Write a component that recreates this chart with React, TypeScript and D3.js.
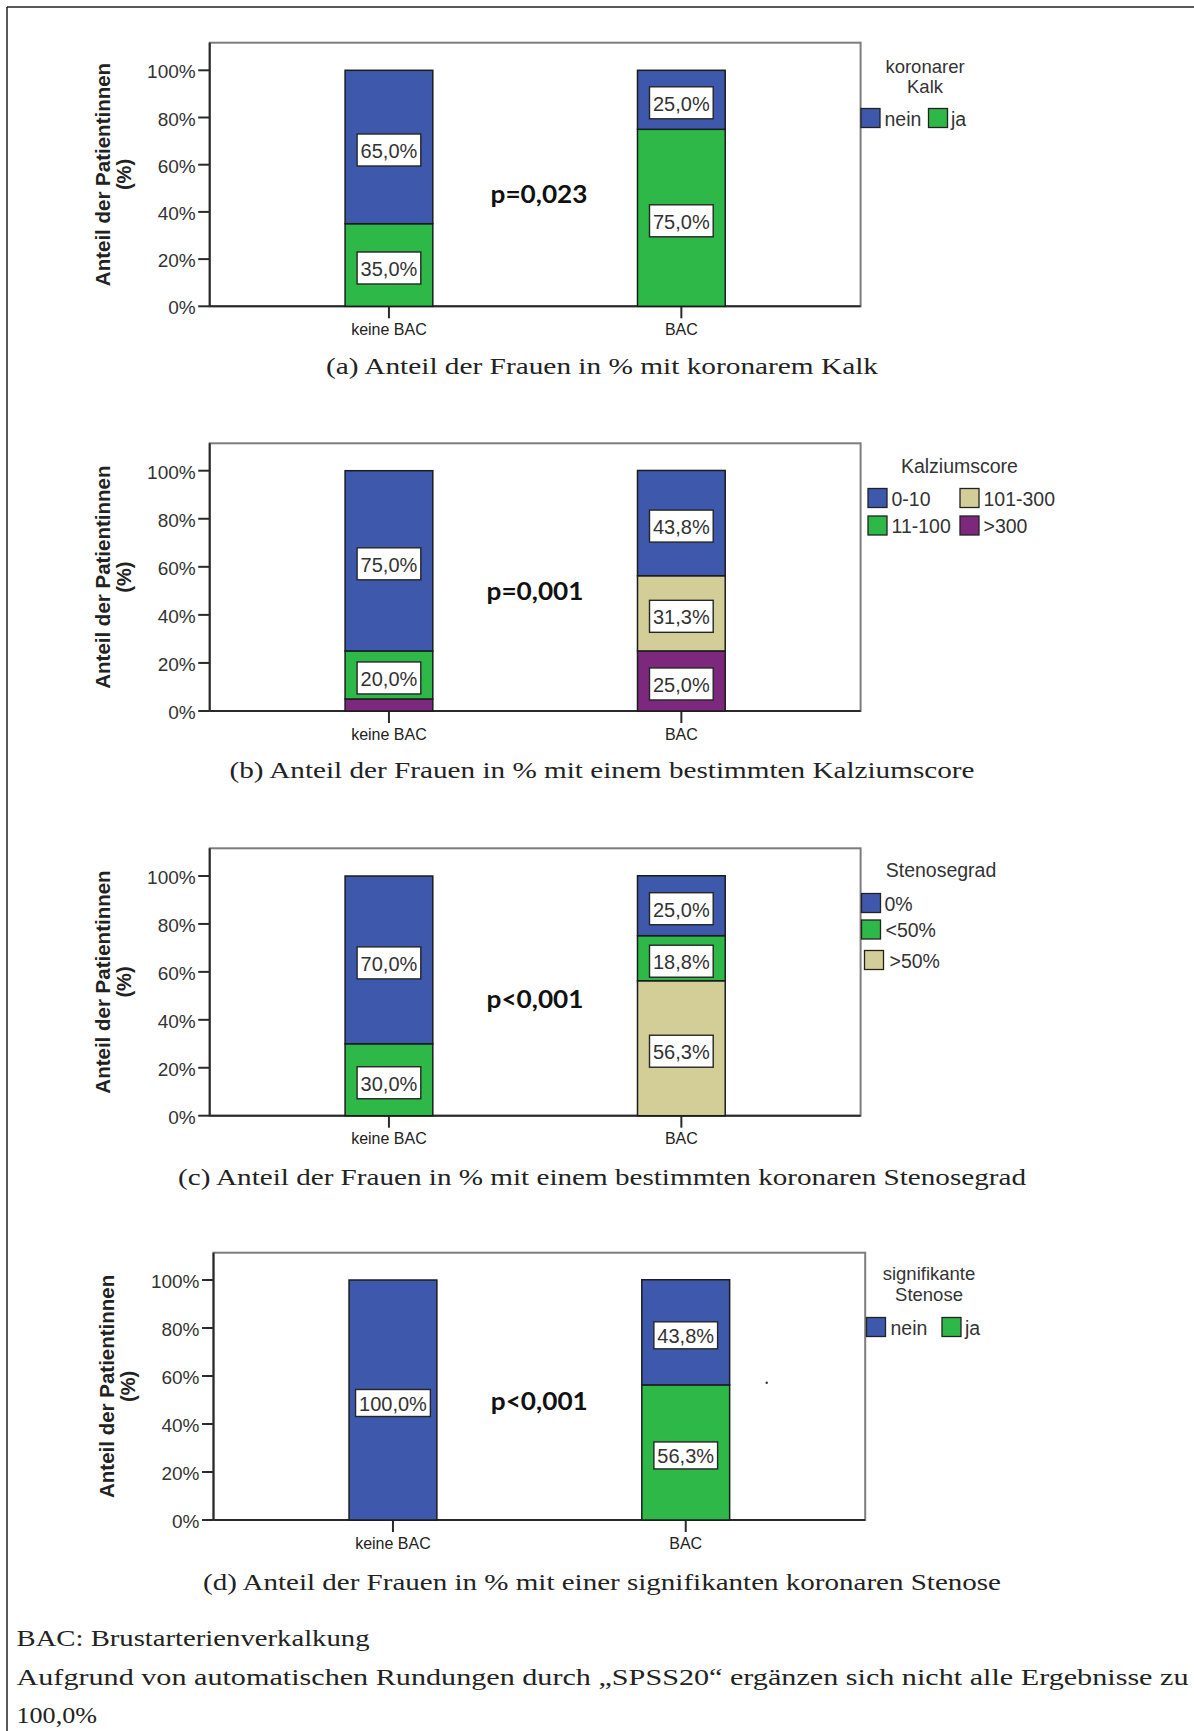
import React from "react";
import * as d3 from "d3";

// Shared categories and axis ticks
const categories = ["keine BAC", "BAC"];
const yTicks = [0, 20, 40, 60, 80, 100];

// (a) koronarer Kalk
const kalkLevels = ["nein", "ja"];
const kalkNein = [65.0, 25.0];
const kalkJa = [35.0, 75.0];

// (b) Kalziumscore
const scoreLevels = ["0-10", "11-100", "101-300", ">300"];
const score0to10 = [75.0, 43.8];
const score11to100 = [20.0, 0];
const score101to300 = [0, 31.3];
const scoreOver300 = [5.0, 25.0];

// (c) Stenosegrad
const stenoseLevels = ["0%", "<50%", ">50%"];
const stenose0 = [70.0, 25.0];
const stenoseUnder50 = [30.0, 18.8];
const stenoseOver50 = [0, 56.3];

// (d) signifikante Stenose
const signifLevels = ["nein", "ja"];
const signifNein = [100.0, 43.8];
const signifJa = [0, 56.3];

const pValues = ["p=0,023", "p=0,001", "p<0,001", "p<0,001"];

const captions = [
  "(a) Anteil der Frauen in % mit koronarem Kalk",
  "(b) Anteil der Frauen in % mit einem bestimmten Kalziumscore",
  "(c) Anteil der Frauen in % mit einem bestimmten koronaren Stenosegrad",
  "(d) Anteil der Frauen in % mit einer signifikanten koronaren Stenose",
];

const footnotes = [
  "BAC: Brustarterienverkalkung",
  "Aufgrund von automatischen Rundungen durch \u201ESPSS20\u201C ergänzen sich nicht alle Ergebnisse zu",
  "100,0%",
];

// SPSS default palette
const BLUE = "#3E58AC";
const GREEN = "#2EB848";
const BEIGE = "#D3CE97";
const PURPLE = "#7C287D";

const SANS = "'Liberation Sans', Arial, sans-serif";
const SERIF = "'Liberation Serif', 'Times New Roman', serif";

const deFormat = d3
  .formatLocale({ decimal: ",", thousands: ".", grouping: [3], currency: ["", " €"] })
  .format(".1f");

type Series = { name: string; values: number[]; color: string };
type LegendItem = { name: string; color: string; x: number; y: number; gap: number };

interface PanelCfg {
  series: Series[]; // stacking order, bottom to top
  frame: { left: number; right: number; top: number; base: number; y100: number };
  boxH: number;
  p: string;
  pPos: [number, number];
  legendTitle: string[];
  legendTitleX: number;
  legendTitleY: number[];
  legendItems: LegendItem[];
  caption: string;
  captionY: number;
  captionW: number;
}

const panels: PanelCfg[] = [
  {
    series: [
      { name: kalkLevels[1], values: kalkJa, color: GREEN },
      { name: kalkLevels[0], values: kalkNein, color: BLUE },
    ],
    frame: { left: 209.7, right: 860.6, top: 42.7, base: 306.3, y100: 70.3 },
    boxH: 32,
    p: pValues[0],
    pPos: [539, 193],
    legendTitle: ["koronarer", "Kalk"],
    legendTitleX: 925,
    legendTitleY: [66, 86.5],
    legendItems: [
      { name: kalkLevels[0], color: BLUE, x: 861, y: 108.5, gap: 4.5 },
      { name: kalkLevels[1], color: GREEN, x: 928.5, y: 108.5, gap: 3.5 },
    ],
    caption: captions[0],
    captionY: 366,
    captionW: 552,
  },
  {
    series: [
      { name: scoreLevels[3], values: scoreOver300, color: PURPLE },
      { name: scoreLevels[2], values: score101to300, color: BEIGE },
      { name: scoreLevels[1], values: score11to100, color: GREEN },
      { name: scoreLevels[0], values: score0to10, color: BLUE },
    ],
    frame: { left: 209.7, right: 860.6, top: 443.3, base: 711, y100: 470.7 },
    boxH: 32,
    p: pValues[1],
    pPos: [535, 590],
    legendTitle: ["Kalziumscore"],
    legendTitleX: 959.4,
    legendTitleY: [465.7],
    legendItems: [
      { name: scoreLevels[0], color: BLUE, x: 868, y: 488.5, gap: 4.5 },
      { name: scoreLevels[1], color: GREEN, x: 868, y: 516, gap: 4.5 },
      { name: scoreLevels[2], color: BEIGE, x: 960, y: 488.5, gap: 4.5 },
      { name: scoreLevels[3], color: PURPLE, x: 960, y: 516, gap: 4.5 },
    ],
    caption: captions[1],
    captionY: 770,
    captionW: 745,
  },
  {
    series: [
      { name: stenoseLevels[2], values: stenoseOver50, color: BEIGE },
      { name: stenoseLevels[1], values: stenoseUnder50, color: GREEN },
      { name: stenoseLevels[0], values: stenose0, color: BLUE },
    ],
    frame: { left: 209.7, right: 860.6, top: 848.3, base: 1115.7, y100: 876 },
    boxH: 32,
    p: pValues[2],
    pPos: [535, 998],
    legendTitle: ["Stenosegrad"],
    legendTitleX: 941,
    legendTitleY: [870],
    legendItems: [
      { name: stenoseLevels[0], color: BLUE, x: 861.5, y: 893.5, gap: 4 },
      { name: stenoseLevels[1], color: GREEN, x: 861.5, y: 920, gap: 5 },
      { name: stenoseLevels[2], color: BEIGE, x: 864.5, y: 950.5, gap: 6 },
    ],
    caption: captions[2],
    captionY: 1177,
    captionW: 848,
  },
  {
    series: [
      { name: signifLevels[1], values: signifJa, color: GREEN },
      { name: signifLevels[0], values: signifNein, color: BLUE },
    ],
    frame: { left: 213.5, right: 865.2, top: 1252.7, base: 1520, y100: 1280 },
    boxH: 27,
    p: pValues[3],
    pPos: [539.3, 1400],
    legendTitle: ["signifikante", "Stenose"],
    legendTitleX: 929,
    legendTitleY: [1273.5, 1294],
    legendItems: [
      { name: signifLevels[0], color: BLUE, x: 866.5, y: 1317.5, gap: 5 },
      { name: signifLevels[1], color: GREEN, x: 942, y: 1317.5, gap: 4 },
    ],
    caption: captions[3],
    captionY: 1581.5,
    captionW: 798,
  },
];

// Approximate Arial advance widths for the value labels
function labelWidth(s: string, size: number): number {
  let w = 0;
  for (const ch of s) {
    if (ch === ",") w += 0.278;
    else if (ch === "%") w += 0.889;
    else w += 0.556;
  }
  return w * size;
}

function Panel({ cfg }: { cfg: PanelCfg }) {
  const { frame } = cfg;
  const x = d3
    .scaleBand<string>()
    .domain(categories)
    .range([frame.left, frame.right])
    .paddingInner(0.7)
    .paddingOuter(0.463);
  const y = d3.scaleLinear().domain([0, 100]).range([frame.base, frame.y100]);

  const rows = categories.map((c, i) => {
    const r: Record<string, number | string> = { category: c };
    cfg.series.forEach((s) => (r[s.name] = s.values[i]));
    return r;
  });
  const keys = cfg.series.map((s) => s.name);
  const stacked = d3.stack<any>().keys(keys)(rows);
  const bw = x.bandwidth();
  const midY = (frame.top + frame.base) / 2;
  const labelSize = 20;
  const titleSize = cfg.legendTitle.length > 1 ? 18.5 : 19.5;

  return (
    <g>
      {/* plot frame */}
      <rect
        x={frame.left}
        y={frame.top}
        width={frame.right - frame.left}
        height={frame.base - frame.top}
        fill="#fff"
        stroke="#7d7d7d"
        strokeWidth={2}
      />
      <line x1={frame.left} x2={frame.left} y1={frame.top} y2={frame.base} stroke="#2a2a2a" strokeWidth={2} />
      <line x1={frame.left} x2={frame.right} y1={frame.base} y2={frame.base} stroke="#2a2a2a" strokeWidth={2} />

      {/* y axis */}
      {yTicks.map((t) => (
        <g key={t}>
          <line x1={frame.left - 11.5} x2={frame.left} y1={y(t)} y2={y(t)} stroke="#2a2a2a" strokeWidth={2} />
          <text
            x={frame.left - 14}
            y={y(t) + 1.5}
            textAnchor="end"
            dominantBaseline="central"
            fontFamily={SANS}
            fontSize={19}
            fill="#333"
          >
            {`${t}%`}
          </text>
        </g>
      ))}
      <g transform={`translate(${frame.left - 107},${midY}) rotate(-90)`}>
        <text textAnchor="middle" dominantBaseline="central" fontFamily={SANS} fontWeight="bold" fontSize={20.5} fill="#222">
          Anteil der Patientinnen
        </text>
      </g>
      <g transform={`translate(${frame.left - 85.3},${midY}) rotate(-90)`}>
        <text textAnchor="middle" dominantBaseline="central" fontFamily={SANS} fontWeight="bold" fontSize={20} fill="#222">
          (%)
        </text>
      </g>

      {/* x axis */}
      {categories.map((c) => {
        const cx = (x(c) as number) + bw / 2;
        return (
          <g key={c}>
            <line x1={cx} x2={cx} y1={frame.base} y2={frame.base + 12} stroke="#2a2a2a" strokeWidth={2} />
            <text
              x={cx}
              y={frame.base + 23}
              textAnchor="middle"
              dominantBaseline="central"
              fontFamily={SANS}
              fontSize={16}
              fill="#222"
            >
              {c}
            </text>
          </g>
        );
      })}

      {/* stacked bars */}
      {stacked.map((layer, k) =>
        layer.map((d, i) => {
          if (d[1] - d[0] <= 0) return null;
          const cat = categories[i];
          return (
            <rect
              key={`${k}-${i}`}
              x={x(cat)}
              y={y(d[1])}
              width={bw}
              height={y(d[0]) - y(d[1])}
              fill={cfg.series[k].color}
              stroke="#1c1c1c"
              strokeWidth={1.5}
            />
          );
        })
      )}

      {/* value labels */}
      {stacked.map((layer, k) =>
        layer.map((d, i) => {
          const v = cfg.series[k].values[i];
          if (v < 10) return null;
          const cat = categories[i];
          const cx = (x(cat) as number) + bw / 2;
          const cy = y((d[0] + d[1]) / 2) + 3;
          const txt = `${deFormat(v)}%`;
          const w = labelWidth(txt, labelSize) + 7;
          return (
            <g key={`l-${k}-${i}`}>
              <rect
                x={cx - w / 2}
                y={cy - cfg.boxH / 2}
                width={w}
                height={cfg.boxH}
                fill="#fff"
                stroke="#262626"
                strokeWidth={1.4}
              />
              <text
                x={cx}
                y={cy + 1}
                textAnchor="middle"
                dominantBaseline="central"
                fontFamily={SANS}
                fontSize={labelSize}
                fill="#333"
              >
                {txt}
              </text>
            </g>
          );
        })
      )}

      {/* p value */}
      <text
        x={cfg.pPos[0]}
        y={cfg.pPos[1]}
        textAnchor="middle"
        dominantBaseline="central"
        fontFamily="Lato, 'Open Sans', sans-serif"
        fontWeight="bold"
        fontSize={24}
        fill="#111"
        textLength={97}
        lengthAdjust="spacingAndGlyphs"
      >
        {cfg.p}
      </text>

      {/* legend */}
      {cfg.legendTitle.map((t, i) => (
        <text
          key={t}
          x={cfg.legendTitleX}
          y={cfg.legendTitleY[i]}
          textAnchor="middle"
          dominantBaseline="central"
          fontFamily={SANS}
          fontSize={titleSize}
          fill="#333"
        >
          {t}
        </text>
      ))}
      {cfg.legendItems.map((it) => (
        <g key={it.name}>
          <rect x={it.x} y={it.y} width={19} height={19} fill={it.color} stroke="#222" strokeWidth={1.3} />
          <text
            x={it.x + 19 + it.gap}
            y={it.y + 10}
            dominantBaseline="central"
            fontFamily={SANS}
            fontSize={19.5}
            fill="#333"
          >
            {it.name}
          </text>
        </g>
      ))}

      {/* caption */}
      <text
        x={602}
        y={cfg.captionY}
        textAnchor="middle"
        dominantBaseline="central"
        fontFamily={SERIF}
        fontSize={24}
        fill="#222"
        textLength={cfg.captionW}
        lengthAdjust="spacingAndGlyphs"
      >
        {cfg.caption}
      </text>
    </g>
  );
}

export default function App() {
  return (
    <svg
      width={1194}
      height={1731}
      viewBox="0 0 1194 1731"
      style={{ position: "absolute", left: 0, top: 0, background: "#fff" }}
    >
      <rect x={0} y={0} width={1194} height={1731} fill="#fff" />
      {/* page frame */}
      <line x1={7} x2={1194} y1={7} y2={7} stroke="#222" strokeWidth={1.5} />
      <line x1={7} x2={7} y1={7} y2={1731} stroke="#222" strokeWidth={1.5} />

      {panels.map((p, i) => (
        <Panel key={i} cfg={p} />
      ))}

      {/* stray mark inside panel (d) */}
      <circle cx={766.7} cy={1382.7} r={1.2} fill="#333" />

      {/* footnotes */}
      <text x={16.5} y={1646} fontFamily={SERIF} fontSize={24} fill="#222" textLength={353} lengthAdjust="spacingAndGlyphs">
        {footnotes[0]}
      </text>
      <text x={16.5} y={1685} fontFamily={SERIF} fontSize={24} fill="#222" textLength={1172} lengthAdjust="spacingAndGlyphs">
        {footnotes[1]}
      </text>
      <text x={16.5} y={1722.5} fontFamily={SERIF} fontSize={24} fill="#222" textLength={80.5} lengthAdjust="spacingAndGlyphs">
        {footnotes[2]}
      </text>
    </svg>
  );
}
